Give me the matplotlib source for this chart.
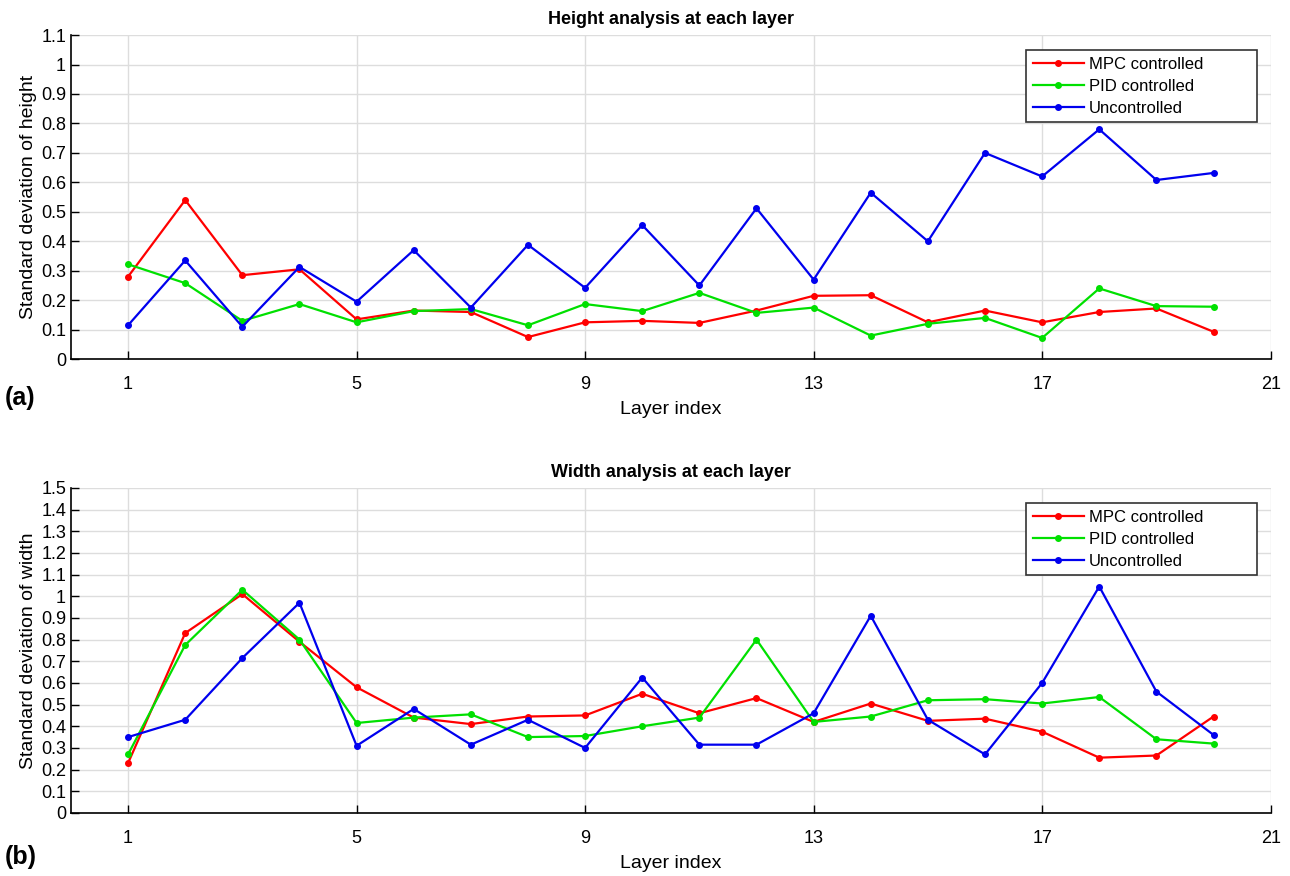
# Height and width analysis at each layer
import numpy as np
import matplotlib.pyplot as plt

plt.rcParams['font.family'] = ['Liberation Sans', 'DejaVu Sans']

# Layer index
layers = np.arange(1, 21)

# Standard deviation of height
height_mpc = [0.28, 0.54, 0.285, 0.305, 0.135, 0.165, 0.16, 0.075, 0.125, 0.13,
              0.123, 0.165, 0.215, 0.217, 0.125, 0.165, 0.125, 0.16, 0.172, 0.093]
height_pid = [0.322, 0.258, 0.13, 0.187, 0.125, 0.163, 0.17, 0.115, 0.187, 0.163,
              0.225, 0.157, 0.175, 0.08, 0.12, 0.14, 0.072, 0.24, 0.18, 0.178]
height_unc = [0.115, 0.335, 0.11, 0.313, 0.195, 0.37, 0.175, 0.388, 0.242, 0.455,
              0.25, 0.512, 0.27, 0.565, 0.4, 0.70, 0.62, 0.78, 0.608, 0.632]

# Standard deviation of width
width_mpc = [0.23, 0.83, 1.01, 0.79, 0.58, 0.44, 0.41, 0.445, 0.45, 0.55,
             0.46, 0.53, 0.42, 0.505, 0.425, 0.435, 0.375, 0.255, 0.265, 0.445]
width_pid = [0.27, 0.775, 1.03, 0.80, 0.415, 0.44, 0.455, 0.35, 0.355, 0.40,
             0.44, 0.80, 0.42, 0.445, 0.52, 0.525, 0.505, 0.535, 0.34, 0.32]
width_unc = [0.35, 0.43, 0.715, 0.97, 0.31, 0.48, 0.315, 0.43, 0.30, 0.625,
             0.315, 0.315, 0.46, 0.91, 0.43, 0.27, 0.60, 1.045, 0.56, 0.36]

labels = ["MPC controlled", "PID controlled", "Uncontrolled"]
colors = ["#ff0000", "#00e000", "#0000ee"]
xticks = [1, 5, 9, 13, 17, 21]


def fmt(v):
    s = f"{v:.1f}"
    return s[:-2] if s.endswith(".0") else s


def draw(ax, series, ymax, title, ylabel):
    for vals, lab, col in zip(series, labels, colors):
        ax.plot(layers, vals, "-", marker=".", color=col, lw=1.6, ms=8, label=lab)
    ax.set_xlim(0, 21)
    ax.set_ylim(0, ymax)
    yt = np.round(np.arange(0, ymax + 0.001, 0.1), 1)
    ax.set_yticks(yt)
    ax.set_yticklabels([fmt(v) for v in yt])
    ax.set_xticks(xticks)
    ax.grid(True, color="#dddddd", lw=1)
    ax.set_axisbelow(True)
    ax.spines["top"].set_visible(False)
    ax.spines["right"].set_visible(False)
    ax.spines["left"].set_linewidth(1.2)
    ax.spines["bottom"].set_linewidth(1.2)
    ax.tick_params(direction="in", length=6, labelsize=13, width=1)
    ax.tick_params(axis="x", pad=12)
    ax.set_title(title, fontsize=13, fontweight="bold", pad=8)
    ax.set_xlabel("Layer index", fontsize=14, labelpad=6)
    ax.set_ylabel(ylabel, fontsize=14, labelpad=3)
    # MATLAB-style legend box with extra room on the right
    leg = ax.legend(loc="upper left", bbox_to_anchor=(0.796, 0.0, 0.193, 0.954),
                    mode="expand", fontsize=12,
                    fancybox=False, edgecolor="#333333", framealpha=1,
                    borderaxespad=0, handlelength=3.1, handletextpad=0.3,
                    borderpad=0.4, labelspacing=0.42)
    leg.get_frame().set_linewidth(1.2)


fig = plt.figure(figsize=(12.9, 8.76), dpi=100)
ax1 = fig.add_axes([0.055, 0.590, 0.93, 0.370])
ax2 = fig.add_axes([0.055, 0.072, 0.93, 0.371])

draw(ax1, [height_mpc, height_pid, height_unc], 1.1,
     "Height analysis at each layer", "Standard deviation of height")
draw(ax2, [width_mpc, width_pid, width_unc], 1.5,
     "Width analysis at each layer", "Standard deviation of width")

fig.text(0.004, 0.546, "(a)", fontsize=18, fontweight="bold", va="center")
fig.text(0.004, 0.022, "(b)", fontsize=18, fontweight="bold", va="center")

plt.savefig("out.png", dpi=100)
